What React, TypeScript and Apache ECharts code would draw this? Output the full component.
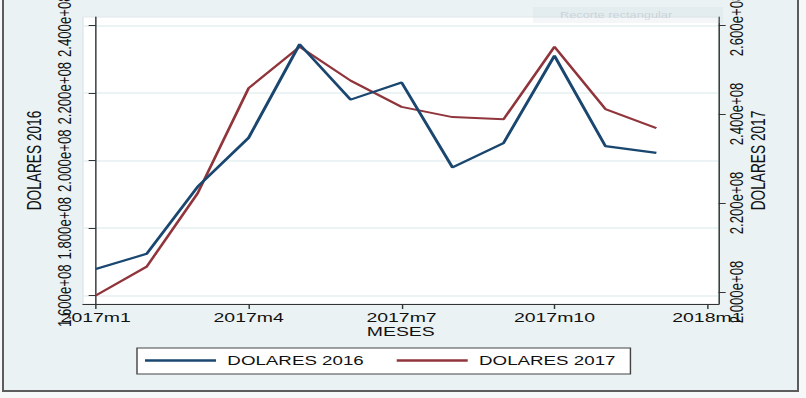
import React, { useEffect, useRef } from "react";
import * as echarts from "echarts";

// ---- data ----
const MONTHS = ["2017m1", "2017m2", "2017m3", "2017m4", "2017m5", "2017m6", "2017m7", "2017m8", "2017m9", "2017m10", "2017m11", "2017m12"];
const DOLARES_2016 = [1.679e8, 1.724e8, 1.923e8, 2.068e8, 2.345e8, 2.181e8, 2.232e8, 1.98e8, 2.052e8, 2.311e8, 2.043e8, 2.023e8];
const DOLARES_2017 = [1.992e8, 2.057e8, 2.222e8, 2.458e8, 2.551e8, 2.475e8, 2.416e8, 2.393e8, 2.388e8, 2.551e8, 2.411e8, 2.368e8];
const X_TICK_POS = [0, 3, 6, 9, 12];
const X_TICK_LABELS = ["2017m1", "2017m4", "2017m7", "2017m10", "2018m1"];
const LEFT_TICKS = [1.6e8, 1.8e8, 2.0e8, 2.2e8, 2.4e8];
const RIGHT_TICKS = [2.0e8, 2.2e8, 2.4e8, 2.6e8];

const S = 1.42; // horizontal stretch of the original picture
const W = 806;
const H = 398;
const FONT = "'Liberation Sans', Arial, sans-serif";

const fmtExp = (v: number) => {
  const s = v.toExponential(3); // 1.600e+8
  const m = s.match(/^(-?[\d.]+)e([+-])(\d+)$/);
  if (!m) return s;
  return `${m[1]}e${m[2]}${m[3].padStart(2, "0")}`;
};

export default function App() {
  const ref = useRef<HTMLDivElement>(null);
  useEffect(() => {
    if (!ref.current) return;
    const chart = echarts.init(ref.current, undefined, { renderer: "svg" });
    const sx = (v: number) => v / S;
    const axisText = { color: "#111", fontFamily: FONT, fontSize: 13.7, lineHeight: 12 };
    const yText = { color: "#111", fontFamily: FONT, fontSize: 13.2 };
    chart.setOption({
      animation: false,
      backgroundColor: "transparent",
      textStyle: { fontFamily: FONT },
      grid: {
        left: sx(83),
        right: sx(W - 718),
        top: 17,
        bottom: H - 304,
        show: true,
        backgroundColor: "#ffffff",
        borderColor: "#dfe8ea",
        borderWidth: 1,
        containLabel: false,
        outerBoundsMode: "none",
      },
      legend: {
        left: sx(137),
        top: 348,
        orient: "horizontal",
        icon: "rect",
        itemWidth: sx(71),
        itemHeight: 2.5,
        itemGap: sx(33),
        padding: [6, sx(15), 7, sx(8)],
        backgroundColor: "#ffffff",
        borderColor: "#444",
        borderWidth: 1,
        borderRadius: 0,
        textStyle: { color: "#111", fontFamily: FONT, fontSize: 13.2, padding: [0, 0, 0, 3] },
        data: ["DOLARES 2016", "DOLARES 2017"],
      },
      xAxis: {
        type: "value",
        min: -0.25,
        max: 12.22,
        name: "MESES",
        nameLocation: "middle",
        nameGap: 22,
        nameMoveOverlap: false,
        nameTextStyle: axisText,
        axisLine: { show: true, lineStyle: { color: "#333", width: 1 } },
        axisTick: { show: true, length: 5, customValues: X_TICK_POS, lineStyle: { color: "#333" } },
        axisLabel: {
          ...axisText,
          margin: 8,
          customValues: X_TICK_POS,
          formatter: (v: number) => X_TICK_LABELS[X_TICK_POS.indexOf(Math.round(v))] ?? "",
        },
        splitLine: { show: false },
      },
      yAxis: [
        {
          type: "value",
          position: "left",
          min: 1.5754e8,
          max: 2.4258e8,
          name: "DOLARES 2016",
          nameLocation: "middle",
          nameRotate: 90,
          nameGap: 27,
          nameMoveOverlap: false,
          nameTextStyle: { ...axisText, lineHeight: undefined },
          axisLine: { show: true, lineStyle: { color: "#333", width: 1 } },
          axisTick: { show: true, length: 5, customValues: LEFT_TICKS, lineStyle: { color: "#333" } },
          axisLabel: { ...yText, rotate: 90, margin: 7, customValues: LEFT_TICKS, formatter: (v: number) => fmtExp(v) },
          splitLine: { show: true, lineStyle: { color: "#e6eff1", width: 1.5 } },
        },
        {
          type: "value",
          position: "right",
          min: 1.973e8,
          max: 2.618e8,
          name: "DOLARES 2017",
          nameLocation: "middle",
          nameRotate: 90,
          nameGap: 21,
          nameMoveOverlap: false,
          nameTextStyle: { ...axisText, lineHeight: undefined },
          axisLine: { show: true, lineStyle: { color: "#333", width: 1 } },
          axisTick: { show: true, length: 5, customValues: RIGHT_TICKS, lineStyle: { color: "#333" } },
          axisLabel: { ...yText, rotate: 90, margin: 6, customValues: RIGHT_TICKS, formatter: (v: number) => fmtExp(v) },
          splitLine: { show: false },
        },
      ],
      series: [
        {
          name: "DOLARES 2016",
          type: "line",
          yAxisIndex: 0,
          data: DOLARES_2016.map((v, i) => [i, v]),
          symbol: "none",
          color: "#1a476f",
          lineStyle: { width: 2.2, color: "#1a476f" },
          z: 3,
        },
        {
          name: "DOLARES 2017",
          type: "line",
          yAxisIndex: 1,
          data: DOLARES_2017.map((v, i) => [i, v]),
          symbol: "none",
          color: "#90353b",
          lineStyle: { width: 2, color: "#90353b" },
          z: 2,
        },
      ],
      graphic: [
        {
          type: "rect",
          shape: { x: sx(533), y: 7, width: sx(190), height: 16 },
          style: { fill: "rgba(205,215,225,0.22)" },
          silent: true,
          z: 100,
        },
        {
          type: "text",
          x: sx(560),
          y: 15,
          style: {
            text: "Recorte rectangular",
            fill: "rgba(150,165,180,0.35)",
            font: `9px ${FONT}`,
            verticalAlign: "middle",
          },
          silent: true,
          z: 101,
        },
      ],
    });
    return () => chart.dispose();
  }, []);

  return (
    <div style={{ position: "fixed", left: 0, top: 0, width: W, height: H, overflow: "hidden", background: "#f5f7f8" }}>
      <div
        style={{
          position: "absolute",
          left: 2,
          top: -3,
          width: 797,
          height: 395,
          boxSizing: "border-box",
          border: "2px solid #5c5c5c",
          background: "#eaf2f3",
        }}
      />
      <div
        ref={ref}
        style={{
          position: "absolute",
          left: 0,
          top: 0,
          width: W / S,
          height: H,
          transform: `scaleX(${S})`,
          transformOrigin: "0 0",
        }}
      />
    </div>
  );
}
